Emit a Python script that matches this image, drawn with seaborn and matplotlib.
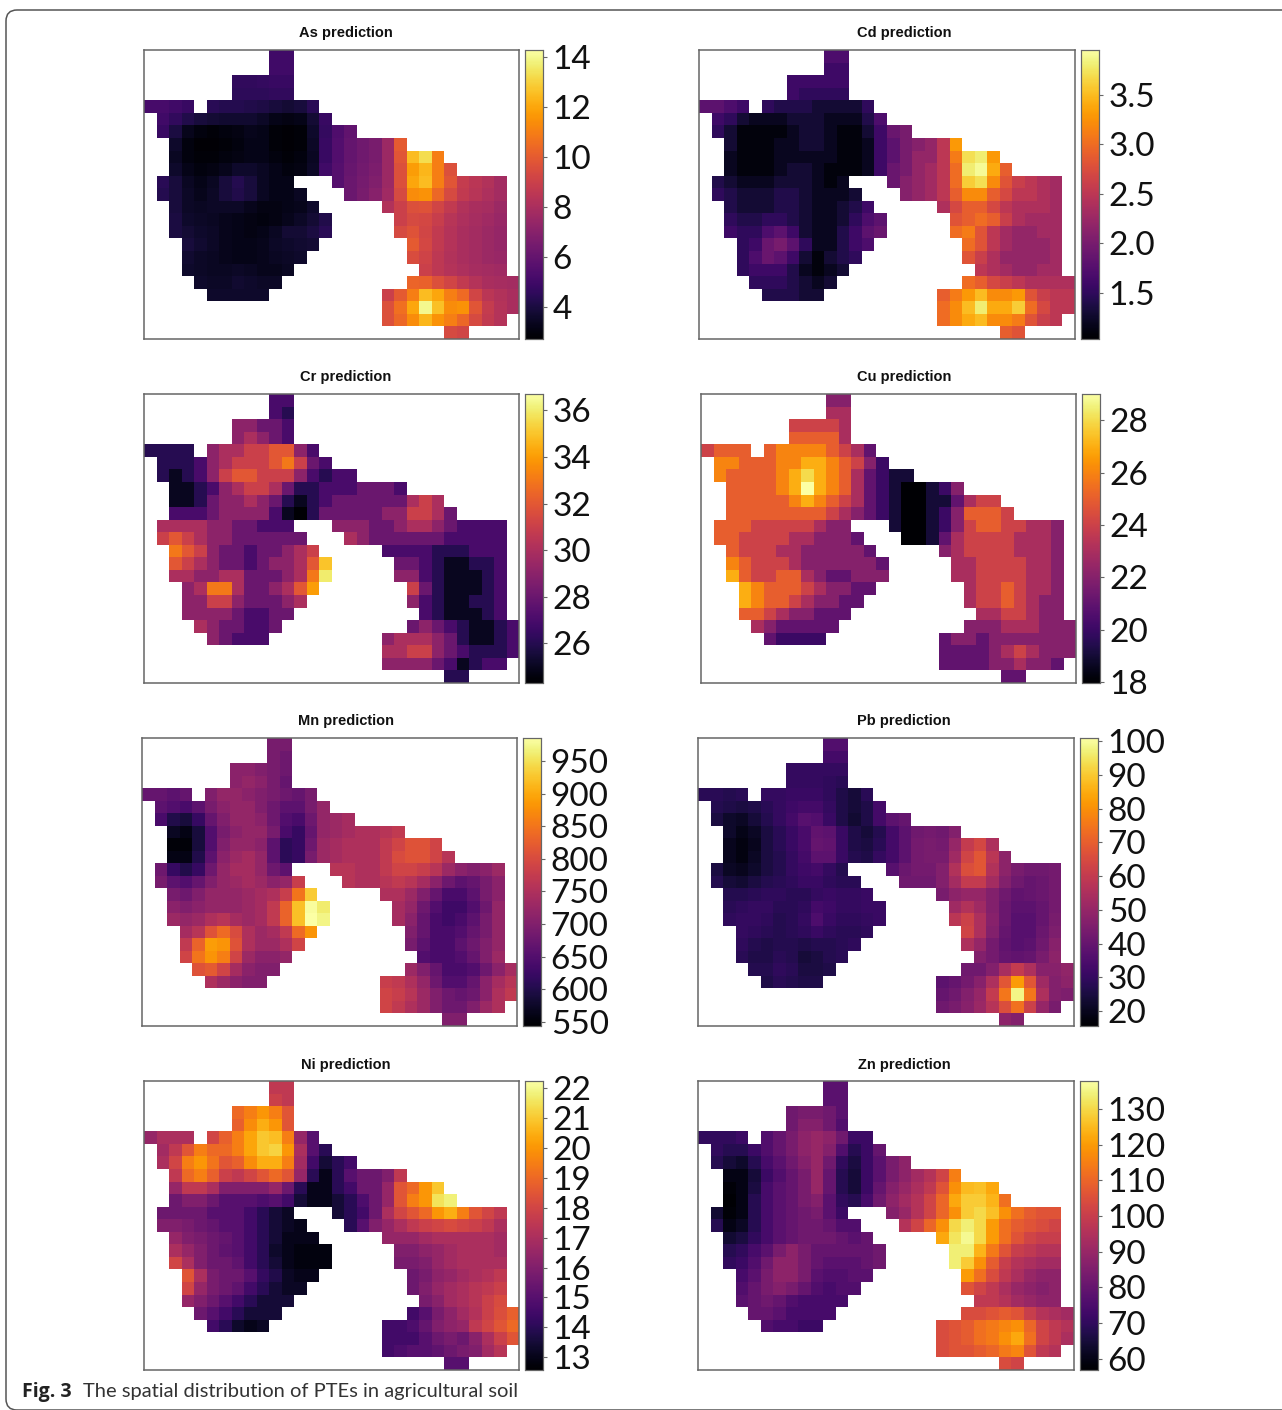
"""
Spatial distribution of PTEs in agricultural soil, 8 panels of seaborn heatmaps
"""
import numpy as np
import matplotlib
matplotlib.use('Agg')
import matplotlib.pyplot as plt
from matplotlib.patches import FancyBboxPatch
from matplotlib.transforms import IdentityTransform
import seaborn as sns

W, H = 1282, 1410

# column spans (first, last) of the study area on each grid row, all panels share it
area_spans = [
    [(10, 11)], [(10, 11)], [(7, 11)], [(7, 11)], [(0, 3), (5, 13)], [(1, 14)], [(1, 16)], [(2, 20)],
    [(2, 23)], [(2, 24)], [(1, 11), (15, 28)], [(1, 12), (16, 28)], [(2, 13), (19, 28)],
    [(2, 14), (20, 28)], [(2, 14), (20, 28)], [(3, 13), (21, 28)], [(3, 12), (21, 28)],
    [(3, 11), (22, 28)], [(4, 10), (21, 29)], [(5, 9), (19, 29)], [(19, 29)], [(19, 28)], [(24, 25)],
]

# values of the cells inside the area, row by row
as_vals = [
    [5.0, 5.0], [5.0, 5.0], [4.6, 4.6, 4.7, 4.8, 4.8], [4.5, 4.5, 4.5, 4.6, 4.6],
    [5.2, 5.2, 5.0, 4.8, 4.4, 4.3, 4.3, 4.2, 4.1, 3.9, 3.8, 3.9, 4.4],
    [5.0, 4.6, 4.2, 3.9, 3.8, 3.7, 3.7, 3.7, 3.5, 3.2, 3.1, 3.2, 3.8, 4.8],
    [4.8, 4.0, 3.3, 3.0, 2.9, 3.0, 3.1, 3.3, 3.2, 2.9, 2.8, 2.9, 3.6, 4.7, 5.4, 5.9],
    [3.6, 3.0, 2.8, 2.8, 2.9, 3.0, 3.2, 3.2, 2.9, 2.8, 2.9, 3.5, 4.8, 5.5, 6.0, 6.3, 6.6, 7.6, 10.0],
    [3.4, 3.0, 2.9, 2.9, 3.0, 3.1, 3.2, 3.2, 3.0, 2.9, 3.0, 3.4, 4.8, 5.5, 6.0, 6.3, 6.6, 7.6, 9.8, 12.5, 13.3, 11.0],
    [3.6, 3.2, 3.0, 3.1, 3.3, 3.6, 3.6, 3.4, 3.2, 3.0, 3.1, 3.5, 5.0, 5.6, 6.1, 6.4, 6.7, 7.6, 9.6, 11.8, 12.4, 11.0, 9.6],
    [4.4, 3.9, 3.4, 3.2, 3.4, 3.9, 4.3, 3.9, 3.4, 3.2, 3.2, 5.6, 6.2, 6.5, 6.8, 7.6, 9.6, 12.0, 12.5, 11.0, 9.8, 8.8, 8.5, 8.2, 7.8],
    [4.3, 3.9, 3.5, 3.3, 3.5, 3.9, 4.2, 3.9, 3.4, 3.2, 3.2, 3.4, 6.2, 6.6, 7.0, 7.7, 9.4, 11.4, 11.5, 10.4, 9.4, 8.7, 8.4, 8.1, 7.8],
    [3.9, 3.5, 3.4, 3.5, 3.5, 3.5, 3.3, 3.1, 3.1, 3.2, 3.3, 3.6, 8.2, 9.0, 9.6, 9.7, 9.2, 8.7, 8.2, 8.0, 7.9, 7.6],
    [4.0, 3.6, 3.5, 3.4, 3.3, 3.2, 3.1, 3.0, 3.1, 3.3, 3.5, 3.8, 4.2, 9.0, 9.4, 9.3, 8.9, 8.4, 8.1, 7.9, 7.7, 7.5],
    [4.0, 3.8, 3.6, 3.5, 3.3, 3.2, 3.1, 3.2, 3.4, 3.8, 3.8, 4.0, 4.4, 9.4, 9.7, 9.2, 8.7, 8.3, 8.0, 7.8, 7.6, 7.4],
    [3.9, 3.7, 3.5, 3.3, 3.2, 3.2, 3.3, 3.5, 3.6, 3.7, 3.8, 10.0, 9.3, 8.7, 8.3, 8.0, 7.8, 7.6, 7.4],
    [3.7, 3.5, 3.4, 3.3, 3.2, 3.2, 3.3, 3.4, 3.5, 3.6, 9.5, 9.1, 8.6, 8.2, 8.0, 7.8, 7.6, 7.5],
    [3.6, 3.5, 3.4, 3.4, 3.5, 3.4, 3.3, 3.3, 3.4, 9.0, 8.6, 8.3, 8.1, 7.9, 7.8, 7.7],
    [3.6, 3.5, 3.5, 3.7, 3.6, 3.5, 3.5, 10.3, 10.2, 9.6, 9.2, 8.7, 8.3, 8.0, 7.9, 7.8],
    [3.6, 3.6, 3.6, 3.6, 3.6, 9.0, 10.0, 11.0, 12.5, 12.0, 11.0, 10.5, 9.2, 8.5, 8.2, 8.0],
    [9.6, 10.6, 12.0, 14.0, 12.6, 11.4, 11.5, 9.8, 8.8, 8.3, 8.0],
    [9.6, 10.4, 11.4, 12.4, 11.5, 11.0, 10.4, 9.4, 8.7, 8.3],
    [9.4, 9.2],
]
cd_vals = [
    [1.7, 1.7], [1.6, 1.6], [1.6, 1.6, 1.6, 1.6, 1.6], [1.6, 1.5, 1.5, 1.5, 1.5],
    [1.8, 1.8, 1.7, 1.6, 1.5, 1.4, 1.4, 1.4, 1.3, 1.3, 1.3, 1.3, 1.5],
    [1.6, 1.5, 1.3, 1.2, 1.2, 1.2, 1.3, 1.3, 1.3, 1.2, 1.2, 1.2, 1.4, 1.7],
    [1.5, 1.3, 1.1, 1.1, 1.1, 1.1, 1.2, 1.3, 1.3, 1.2, 1.1, 1.1, 1.3, 1.6, 1.9, 2.0],
    [1.3, 1.1, 1.1, 1.1, 1.2, 1.2, 1.3, 1.3, 1.2, 1.1, 1.1, 1.2, 1.6, 1.8, 2.0, 2.1, 2.2, 2.5, 3.3],
    [1.2, 1.1, 1.1, 1.1, 1.2, 1.2, 1.2, 1.2, 1.2, 1.1, 1.1, 1.2, 1.6, 1.8, 2.0, 2.2, 2.2, 2.5, 3.1, 3.7, 3.8, 3.3],
    [1.2, 1.1, 1.1, 1.1, 1.2, 1.3, 1.3, 1.2, 1.1, 1.1, 1.1, 1.2, 1.6, 1.9, 2.0, 2.2, 2.3, 2.5, 3.0, 3.8, 3.9, 3.4, 2.9],
    [1.4, 1.3, 1.2, 1.2, 1.2, 1.3, 1.3, 1.3, 1.2, 1.1, 1.2, 1.9, 2.1, 2.2, 2.3, 2.5, 3.0, 3.6, 3.7, 3.2, 2.8, 2.6, 2.5, 2.4, 2.3],
    [1.5, 1.4, 1.3, 1.3, 1.3, 1.4, 1.4, 1.3, 1.2, 1.2, 1.2, 1.3, 2.1, 2.2, 2.3, 2.5, 2.9, 3.2, 3.2, 2.9, 2.7, 2.5, 2.5, 2.4, 2.3],
    [1.4, 1.3, 1.3, 1.3, 1.4, 1.4, 1.3, 1.2, 1.2, 1.3, 1.4, 1.6, 2.4, 2.7, 2.9, 2.9, 2.7, 2.5, 2.4, 2.4, 2.4, 2.3],
    [1.5, 1.4, 1.4, 1.5, 1.5, 1.4, 1.3, 1.2, 1.2, 1.3, 1.5, 1.7, 1.8, 2.8, 2.9, 3.0, 2.9, 2.6, 2.4, 2.3, 2.3, 2.3],
    [1.6, 1.5, 1.5, 1.7, 1.8, 1.6, 1.3, 1.2, 1.2, 1.4, 1.6, 1.8, 1.9, 3.0, 3.1, 2.8, 2.5, 2.3, 2.2, 2.2, 2.3, 2.3],
    [1.5, 1.6, 1.9, 2.0, 1.8, 1.5, 1.2, 1.2, 1.4, 1.6, 1.7, 3.0, 2.8, 2.5, 2.3, 2.2, 2.2, 2.2, 2.3],
    [1.5, 1.7, 1.9, 1.8, 1.6, 1.3, 1.1, 1.3, 1.4, 1.5, 2.8, 2.6, 2.4, 2.2, 2.2, 2.2, 2.2, 2.3],
    [1.5, 1.6, 1.6, 1.6, 1.4, 1.2, 1.1, 1.2, 1.3, 2.5, 2.4, 2.3, 2.2, 2.2, 2.3, 2.3],
    [1.5, 1.5, 1.5, 1.4, 1.3, 1.2, 1.3, 3.0, 2.9, 2.7, 2.6, 2.5, 2.4, 2.4, 2.4, 2.4],
    [1.4, 1.4, 1.4, 1.3, 1.3, 2.9, 3.1, 3.3, 3.5, 3.2, 3.2, 3.3, 2.8, 2.6, 2.5, 2.5],
    [3.0, 3.2, 3.5, 3.8, 3.4, 3.4, 3.6, 3.0, 2.7, 2.5, 2.5],
    [3.0, 3.2, 3.4, 3.5, 3.2, 3.2, 3.1, 2.8, 2.6, 2.5],
    [2.9, 2.8],
]
cr_vals = [
    [27, 27], [27, 26], [29, 29, 28, 28, 27], [29, 30, 29, 28, 27],
    [26, 26, 26, 26, 29, 30, 30, 31, 31, 32, 32, 29, 27],
    [26, 26, 26, 27, 29, 30, 31, 31, 31, 32, 33, 31, 28, 27],
    [26, 25, 26, 27, 29, 31, 32, 32, 31, 31, 31, 29, 27, 26, 27, 27],
    [25, 25, 26, 27, 29, 30, 31, 31, 30, 28, 26, 26, 27, 27, 27, 28, 28, 28, 27],
    [25, 25, 26, 28, 29, 29, 30, 29, 28, 26, 25, 26, 27, 28, 28, 28, 28, 28, 28, 30, 31, 30],
    [27, 27, 27, 28, 29, 29, 29, 29, 27, 25, 24, 26, 28, 28, 28, 28, 28, 29, 29, 31, 31, 30, 28],
    [30, 30, 30, 30, 29, 29, 28, 28, 27, 27, 27, 29, 29, 29, 28, 28, 29, 30, 30, 29, 28, 27, 27, 27, 27],
    [31, 32, 31, 30, 29, 29, 28, 28, 28, 28, 28, 28, 30, 29, 28, 28, 28, 28, 28, 28, 27, 27, 27, 27, 27],
    [33, 32, 31, 29, 28, 28, 27, 28, 28, 29, 30, 31, 27, 27, 27, 27, 26, 26, 26, 27, 27, 27],
    [32, 31, 30, 29, 28, 28, 27, 28, 29, 29, 30, 32, 35, 28, 28, 27, 26, 25, 25, 26, 26, 27],
    [30, 30, 29, 29, 30, 30, 28, 28, 28, 29, 30, 33, 36, 29, 29, 27, 26, 25, 25, 25, 26, 27],
    [29, 30, 33, 33, 30, 28, 28, 29, 30, 32, 34, 31, 28, 26, 25, 25, 25, 26, 27],
    [29, 29, 31, 31, 29, 28, 28, 28, 29, 30, 29, 27, 26, 25, 25, 26, 26, 27],
    [29, 29, 29, 29, 28, 27, 27, 28, 28, 27, 26, 25, 25, 25, 26, 27],
    [30, 29, 28, 28, 27, 27, 28, 28, 29, 28, 27, 26, 25, 25, 26, 27],
    [29, 28, 27, 27, 27, 29, 30, 30, 30, 29, 28, 26, 25, 25, 26, 27],
    [30, 30, 31, 31, 29, 28, 27, 26, 26, 26, 27],
    [29, 29, 29, 29, 28, 27, 25, 26, 27, 27],
    [26, 26],
]
cu_vals = [
    [22, 22], [23, 23], [24, 24, 24, 24, 23], [25, 25, 25, 25, 23],
    [24, 25, 25, 25, 25, 26, 26, 26, 26, 25, 24, 23, 21],
    [26, 26, 25, 25, 25, 26, 26, 27, 27, 26, 25, 24, 22, 20],
    [26, 25, 25, 25, 25, 26, 27, 28, 27, 26, 25, 23, 21, 20, 19, 19],
    [25, 25, 25, 25, 26, 27, 29, 27, 26, 25, 23, 21, 20, 19, 18, 18, 19, 20, 22],
    [25, 25, 25, 25, 25, 26, 27, 26, 25, 24, 23, 21, 20, 19, 18, 18, 19, 19, 21, 23, 24, 24],
    [25, 25, 25, 25, 25, 25, 25, 25, 24, 23, 22, 21, 20, 19, 18, 18, 19, 20, 22, 25, 25, 25, 24],
    [25, 25, 25, 24, 24, 24, 24, 24, 23, 22, 22, 19, 18, 18, 19, 20, 22, 24, 25, 25, 24, 24, 23, 23, 22],
    [25, 25, 24, 24, 24, 24, 23, 23, 22, 22, 22, 21, 18, 18, 19, 21, 23, 24, 24, 24, 24, 23, 23, 23, 22],
    [25, 24, 24, 24, 23, 23, 22, 22, 22, 22, 22, 21, 22, 23, 24, 24, 24, 24, 23, 23, 23, 22],
    [26, 25, 24, 24, 24, 23, 22, 22, 22, 22, 22, 22, 21, 23, 23, 24, 24, 24, 24, 23, 23, 22],
    [27, 25, 24, 24, 25, 25, 23, 22, 21, 21, 22, 22, 22, 23, 23, 24, 24, 24, 24, 23, 23, 22],
    [27, 26, 25, 25, 25, 24, 23, 22, 22, 21, 21, 23, 24, 24, 25, 24, 23, 23, 22],
    [27, 26, 25, 25, 24, 23, 22, 22, 21, 21, 23, 24, 24, 25, 24, 23, 22, 22],
    [25, 25, 24, 23, 22, 22, 21, 21, 21, 23, 23, 24, 24, 23, 22, 22],
    [23, 22, 21, 21, 21, 21, 21, 22, 22, 22, 23, 23, 23, 22, 22, 22],
    [21, 20, 20, 20, 20, 21, 22, 22, 21, 22, 22, 22, 22, 22, 22, 22],
    [21, 21, 21, 21, 22, 23, 24, 23, 22, 22, 22],
    [21, 21, 21, 21, 22, 22, 23, 22, 22, 21],
    [21, 21],
]
mn_vals = [
    [690, 690], [690, 680], [710, 710, 700, 690, 680], [710, 720, 710, 690, 670],
    [670, 670, 660, 670, 700, 720, 720, 710, 700, 690, 680, 670, 690],
    [660, 650, 640, 660, 690, 710, 720, 720, 700, 680, 660, 660, 690, 720],
    [640, 600, 590, 620, 670, 700, 720, 720, 710, 680, 650, 640, 680, 720, 730, 740],
    [570, 560, 590, 650, 690, 710, 720, 720, 690, 640, 620, 670, 720, 730, 740, 750, 750, 760, 770],
    [550, 550, 590, 650, 700, 720, 720, 710, 660, 610, 620, 680, 730, 740, 750, 750, 750, 770, 790, 810, 810, 790],
    [560, 560, 600, 660, 710, 730, 740, 720, 660, 610, 620, 690, 730, 740, 750, 750, 750, 770, 800, 810, 810, 790, 760],
    [680, 620, 600, 620, 680, 720, 740, 740, 720, 680, 660, 760, 760, 750, 750, 770, 790, 790, 780, 760, 730, 710, 700, 710, 730],
    [690, 660, 650, 670, 700, 720, 730, 740, 730, 710, 720, 780, 760, 750, 750, 760, 770, 760, 740, 710, 680, 660, 670, 690, 710],
    [690, 680, 700, 720, 720, 720, 730, 740, 750, 780, 850, 930, 750, 750, 730, 700, 670, 640, 640, 660, 690, 710],
    [710, 700, 710, 720, 720, 720, 730, 740, 770, 830, 920, 980, 960, 740, 720, 680, 650, 630, 630, 650, 680, 720],
    [730, 720, 730, 750, 760, 740, 730, 740, 770, 830, 920, 985, 970, 740, 710, 670, 640, 630, 640, 660, 690, 720],
    [740, 760, 810, 840, 800, 750, 730, 740, 770, 840, 880, 700, 670, 640, 640, 650, 670, 690, 720],
    [770, 830, 890, 880, 810, 750, 730, 730, 750, 790, 690, 660, 640, 640, 660, 680, 700, 720],
    [790, 850, 880, 860, 790, 730, 710, 710, 720, 650, 640, 640, 650, 670, 700, 730],
    [810, 820, 790, 740, 710, 700, 700, 730, 700, 670, 640, 640, 650, 680, 710, 740],
    [750, 730, 710, 700, 700, 780, 770, 750, 720, 680, 650, 650, 670, 710, 740, 760],
    [790, 780, 760, 730, 700, 680, 670, 680, 710, 750, 770],
    [790, 770, 750, 730, 700, 680, 680, 700, 730, 750],
    [700, 700],
]
pb_vals = [
    [36, 36], [33, 33], [30, 30, 30, 30, 30], [30, 30, 30, 29, 28],
    [28, 28, 27, 28, 30, 30, 31, 31, 31, 29, 26, 24, 28],
    [27, 26, 25, 26, 28, 30, 32, 33, 33, 30, 26, 24, 26, 33],
    [25, 22, 21, 24, 27, 30, 33, 37, 36, 31, 26, 23, 26, 33, 38, 40],
    [22, 19, 21, 25, 28, 31, 34, 39, 38, 31, 26, 24, 27, 33, 38, 42, 43, 42, 46],
    [20, 18, 20, 25, 28, 31, 34, 40, 39, 31, 26, 25, 28, 33, 38, 43, 44, 43, 50, 60, 64, 55],
    [20, 18, 21, 25, 27, 30, 33, 38, 38, 31, 27, 26, 30, 33, 38, 43, 44, 44, 52, 63, 68, 58, 48],
    [25, 21, 20, 22, 25, 27, 30, 32, 33, 30, 27, 37, 41, 43, 43, 46, 56, 66, 68, 56, 48, 44, 42, 42, 43],
    [27, 24, 23, 25, 27, 28, 29, 31, 31, 29, 28, 28, 42, 42, 42, 46, 53, 60, 60, 53, 46, 42, 40, 41, 43],
    [27, 27, 28, 29, 29, 28, 28, 30, 31, 30, 30, 31, 44, 48, 50, 50, 46, 42, 39, 40, 41, 43],
    [28, 29, 30, 30, 28, 28, 29, 33, 32, 30, 30, 31, 31, 52, 56, 52, 46, 41, 38, 38, 40, 43],
    [29, 30, 30, 29, 27, 28, 30, 35, 31, 29, 29, 30, 31, 58, 62, 55, 47, 41, 37, 37, 40, 44],
    [30, 29, 28, 27, 28, 29, 31, 29, 28, 28, 29, 63, 55, 46, 40, 37, 37, 41, 45],
    [29, 27, 26, 27, 27, 26, 27, 27, 28, 29, 55, 50, 43, 39, 37, 38, 42, 47],
    [28, 26, 26, 28, 27, 24, 25, 27, 28, 46, 43, 40, 39, 40, 44, 48],
    [27, 27, 29, 28, 25, 25, 26, 42, 42, 46, 54, 60, 55, 47, 47, 49],
    [26, 28, 27, 26, 26, 38, 40, 43, 47, 55, 68, 82, 68, 52, 46, 48],
    [40, 42, 46, 50, 60, 75, 98, 75, 55, 46, 45],
    [42, 44, 47, 51, 57, 66, 74, 62, 50, 44],
    [48, 46],
]
ni_vals = [
    [17.5, 17.5], [17.8, 17.5], [19.0, 19.5, 20.0, 19.5, 18.5], [18.8, 19.8, 20.5, 20.0, 18.5],
    [16.5, 17.0, 17.0, 17.0, 18.0, 18.8, 19.5, 20.3, 21.0, 20.8, 19.5, 16.5, 15.0],
    [16.8, 17.5, 18.5, 19.5, 19.0, 19.0, 19.5, 20.3, 21.0, 21.2, 20.0, 17.0, 15.0, 14.0],
    [17.0, 18.0, 19.5, 20.0, 19.3, 18.5, 18.8, 19.8, 20.5, 20.5, 19.5, 16.8, 14.5, 13.5, 14.0, 14.5],
    [17.5, 19.0, 19.5, 18.8, 17.8, 17.5, 18.0, 18.5, 19.0, 18.5, 16.5, 14.0, 13.0, 14.0, 15.0, 15.5, 15.5, 16.0, 17.5],
    [16.5, 17.5, 17.5, 17.0, 16.0, 16.0, 16.0, 16.0, 16.5, 15.5, 14.0, 13.0, 13.0, 14.0, 14.5, 15.5, 15.5, 16.5, 18.5, 19.0, 20.0, 21.0],
    [15.5, 16.0, 16.0, 15.5, 15.0, 15.0, 15.0, 14.8, 15.0, 14.5, 13.5, 13.0, 13.0, 13.5, 14.0, 14.8, 15.5, 16.5, 18.5, 19.5, 20.0, 21.5, 21.8],
    [15.5, 15.5, 15.5, 15.5, 15.0, 15.0, 15.0, 14.5, 14.0, 13.5, 13.2, 13.5, 14.0, 14.5, 15.5, 17.0, 18.0, 18.5, 19.0, 20.0, 20.5, 19.5, 18.5, 18.0, 17.5],
    [16.0, 16.0, 15.8, 15.5, 15.3, 15.0, 15.0, 14.5, 14.0, 13.5, 13.2, 13.0, 14.0, 15.0, 16.0, 16.5, 17.0, 17.5, 17.8, 18.0, 18.2, 18.0, 17.8, 17.5, 17.0],
    [16.5, 16.0, 15.8, 15.5, 15.3, 15.0, 14.5, 14.0, 13.5, 13.0, 13.0, 13.0, 16.5, 16.5, 16.5, 16.8, 17.0, 17.0, 17.0, 17.0, 17.0, 16.8],
    [17.0, 16.5, 16.0, 15.5, 15.2, 15.0, 14.5, 14.0, 13.3, 13.0, 12.8, 12.8, 12.8, 16.0, 16.0, 16.3, 16.5, 16.8, 17.0, 17.0, 17.0, 16.8],
    [18.0, 17.0, 16.0, 15.5, 15.5, 15.2, 14.5, 14.0, 13.5, 13.0, 12.8, 12.8, 12.8, 15.8, 15.8, 16.0, 16.5, 16.8, 17.0, 17.0, 17.0, 17.0],
    [18.5, 17.0, 15.8, 15.5, 15.5, 15.0, 14.2, 13.8, 13.2, 13.0, 13.0, 15.5, 15.8, 16.3, 16.5, 16.8, 17.0, 17.2, 17.5],
    [18.0, 16.5, 15.8, 15.5, 15.2, 14.5, 14.0, 13.5, 13.2, 13.2, 15.5, 16.0, 16.5, 16.8, 17.0, 17.3, 17.5, 17.8],
    [16.5, 16.0, 15.5, 15.0, 14.5, 14.0, 13.5, 13.5, 13.5, 15.8, 16.2, 16.8, 17.0, 17.3, 17.8, 18.2],
    [15.5, 15.0, 14.5, 14.0, 13.5, 13.5, 13.5, 14.5, 15.0, 15.8, 16.3, 16.8, 17.2, 17.8, 18.3, 18.8],
    [14.5, 14.0, 13.3, 13.0, 13.2, 14.5, 14.5, 14.8, 15.3, 16.0, 16.3, 16.5, 17.5, 18.0, 18.5, 19.0],
    [14.5, 14.5, 14.5, 15.0, 15.5, 15.8, 15.5, 16.2, 17.0, 17.8, 18.5],
    [14.5, 14.8, 15.0, 15.0, 15.2, 15.5, 15.8, 16.0, 16.8, 17.3],
    [15.0, 15.0],
]
zn_vals = [
    [78, 78], [78, 78], [82, 84, 84, 82, 78], [82, 86, 86, 82, 76],
    [70, 70, 70, 72, 76, 80, 84, 88, 90, 88, 82, 72, 72],
    [70, 68, 68, 72, 76, 80, 84, 88, 90, 86, 76, 68, 72, 80],
    [68, 65, 63, 68, 74, 78, 82, 86, 90, 82, 70, 66, 72, 78, 84, 88],
    [60, 60, 65, 72, 76, 80, 84, 90, 80, 68, 65, 72, 78, 84, 88, 92, 96, 102, 115],
    [58, 60, 66, 74, 78, 80, 84, 90, 80, 68, 65, 72, 80, 86, 90, 94, 98, 106, 118, 125, 126, 122],
    [57, 60, 68, 74, 78, 80, 84, 86, 78, 70, 68, 74, 82, 88, 92, 96, 102, 110, 122, 128, 128, 124, 112],
    [64, 58, 60, 68, 74, 78, 80, 82, 84, 78, 72, 86, 90, 96, 102, 110, 118, 128, 130, 126, 118, 112, 108, 106, 106],
    [68, 60, 62, 68, 74, 78, 80, 82, 82, 80, 76, 76, 96, 102, 110, 118, 130, 134, 130, 120, 112, 108, 106, 104, 102],
    [64, 66, 70, 74, 78, 80, 82, 82, 82, 80, 78, 80, 122, 132, 136, 130, 120, 112, 106, 102, 100, 100],
    [68, 70, 74, 78, 84, 88, 84, 80, 80, 80, 80, 80, 82, 134, 134, 124, 114, 106, 100, 98, 96, 96],
    [70, 72, 76, 82, 88, 88, 84, 80, 78, 78, 78, 80, 82, 134, 128, 118, 108, 100, 96, 94, 92, 92],
    [74, 78, 84, 88, 88, 84, 78, 76, 76, 78, 78, 120, 112, 104, 98, 94, 90, 88, 88],
    [76, 80, 84, 86, 84, 80, 76, 74, 76, 76, 106, 102, 98, 94, 90, 88, 86, 88],
    [78, 80, 82, 80, 76, 74, 74, 74, 74, 98, 98, 96, 92, 90, 88, 88],
    [80, 80, 78, 74, 74, 74, 74, 104, 104, 106, 108, 106, 100, 96, 94, 92],
    [76, 74, 74, 72, 72, 104, 106, 108, 112, 114, 116, 118, 110, 102, 98, 96],
    [104, 106, 108, 112, 114, 118, 122, 112, 102, 98, 94],
    [104, 106, 106, 108, 110, 114, 116, 106, 98, 96],
    [104, 102],
]

# colour bar limits and ticks
as_range, as_ticks = (2.72, 14.3), [4, 6, 8, 10, 12, 14]
cd_range, cd_ticks = (1.035, 3.95), [1.5, 2.0, 2.5, 3.0, 3.5]
cr_range, cr_ticks = (24.3, 36.7), [26, 28, 30, 32, 34, 36]
cu_range, cu_ticks = (17.96, 29.0), [18, 20, 22, 24, 26, 28]
mn_range, mn_ticks = (544, 985), [550, 600, 650, 700, 750, 800, 850, 900, 950]
pb_range, pb_ticks = (15.6, 100.9), [20, 30, 40, 50, 60, 70, 80, 90, 100]
ni_range, ni_ticks = (12.57, 22.25), [13, 14, 15, 16, 17, 18, 19, 20, 21, 22]
zn_range, zn_ticks = (56.9, 137.8), [60, 70, 80, 90, 100, 110, 120, 130]


def px_axes(fig, x0, y0, x1, y1):
    # axes from pixel corners, y counted from the top of the picture
    return fig.add_axes([x0 / W, 1 - y1 / H, (x1 - x0) / W, (y1 - y0) / H])


def to_grid(rows):
    grid = np.full((len(area_spans), 30), np.nan)
    for r, spans in enumerate(area_spans):
        cols = np.concatenate([np.arange(a, b + 1) for a, b in spans])
        grid[r, cols] = np.resize(rows[r], len(cols))
    return grid


fig = plt.figure(figsize=(W / 100, H / 100), dpi=100, facecolor='white')

# rounded frame of the journal page, runs off the right side
frame = FancyBboxPatch((6, 0), W + 40, H - 10, boxstyle='round,pad=0,rounding_size=11', fc='none',
                       ec='#555555', lw=1.1, transform=IdentityTransform(), zorder=0)
fig.add_artist(frame)

panels = [
    ('As prediction', as_vals, as_range, as_ticks, '%g', (144, 50, 519, 339), (525, 543), 346),
    ('Cd prediction', cd_vals, cd_range, cd_ticks, '%.1f', (699, 50, 1075, 339), (1081, 1099), 904),
    ('Cr prediction', cr_vals, cr_range, cr_ticks, '%g', (144, 394, 519, 683), (525, 543), 346),
    ('Cu prediction', cu_vals, cu_range, cu_ticks, '%g', (701, 394, 1076, 683), (1082, 1100), 904),
    ('Mn prediction', mn_vals, mn_range, mn_ticks, '%g', (142, 738, 517, 1026), (523, 541), 346),
    ('Pb prediction', pb_vals, pb_range, pb_ticks, '%g', (698, 738, 1074, 1026), (1080, 1098), 904),
    ('Ni prediction', ni_vals, ni_range, ni_ticks, '%g', (144, 1081, 519, 1370), (525, 543), 346),
    ('Zn prediction', zn_vals, zn_range, zn_ticks, '%g', (698, 1081, 1074, 1370), (1080, 1098), 904),
]

for title, vals, rng, ticks, fmt, box, cb, tx in panels:
    ax = px_axes(fig, *box)
    cax = px_axes(fig, cb[0], box[1], cb[1], box[3])
    sns.heatmap(to_grid(vals), ax=ax, cbar_ax=cax, cmap='inferno', vmin=rng[0], vmax=rng[1],
                xticklabels=False, yticklabels=False)
    for s in ax.spines.values():
        s.set_visible(True)
        s.set_color('#666666')
        s.set_linewidth(1.1)
    cax.set_yticks(ticks)
    cax.set_yticklabels([fmt % t for t in ticks], fontsize=24, family='Lato', color='#111111')
    cax.tick_params(length=3, width=0.8, color='#666666', pad=4)
    for s in cax.spines.values():
        s.set_visible(True)
        s.set_color('#666666')
        s.set_linewidth(0.8)
    fig.text(tx / W, 1 - (box[1] - 16.5) / H, title, ha='center', va='center', fontsize=10.5,
             fontweight='bold', family='Liberation Sans', color='#111111')

# caption
fig.text(22 / W, 1 - 1392 / H, 'Fig. 3', ha='left', va='center', fontsize=14, fontweight='bold',
         family='Open Sans', color='#222222')
fig.text(83 / W, 1 - 1392 / H, 'The spatial distribution of PTEs in agricultural soil', ha='left', va='center',
         fontsize=14.5, family='Lato', color='#333333')

fig.savefig('out.png', dpi=100)
